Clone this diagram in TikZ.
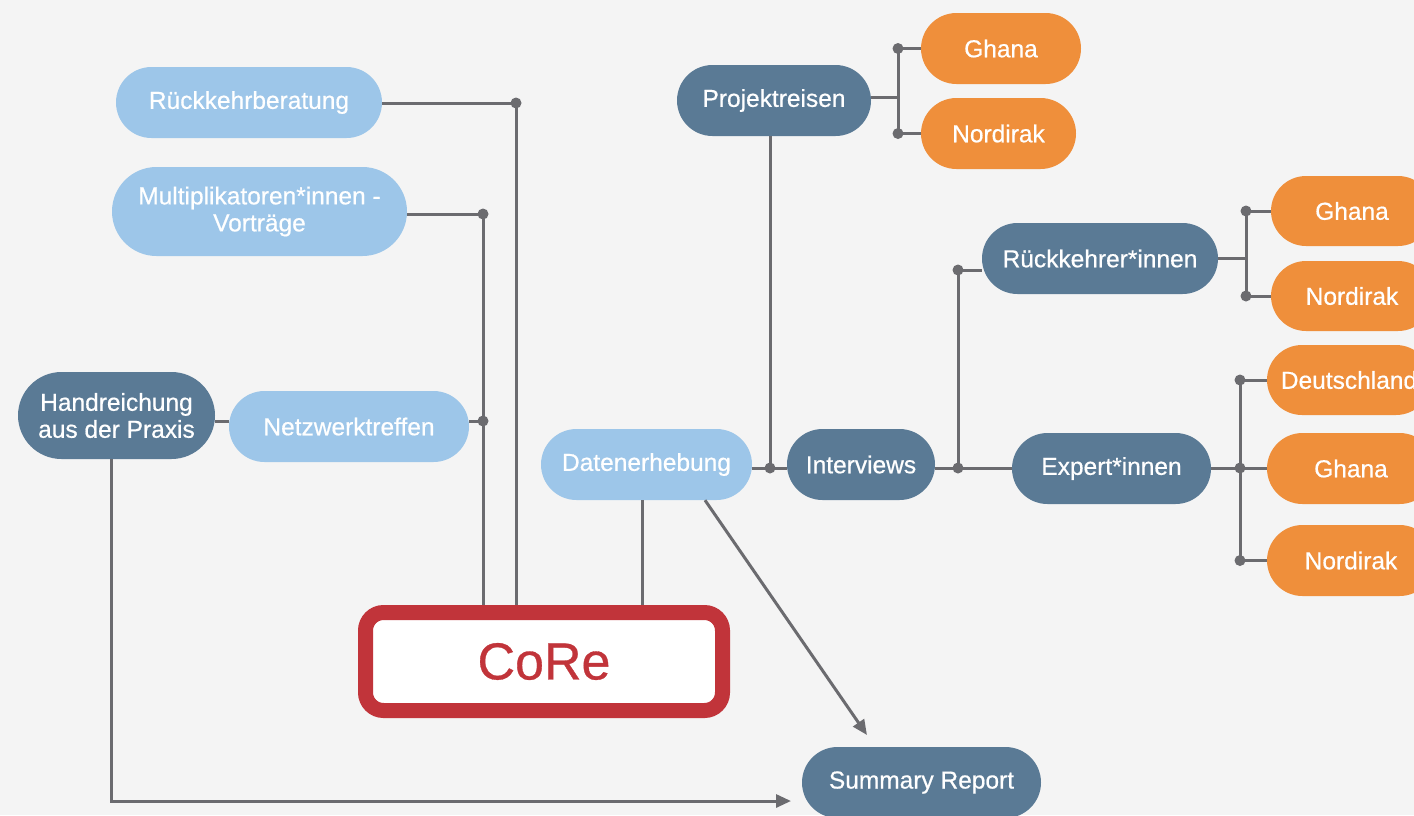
\documentclass[tikz,border=0pt]{standalone}
\usepackage{fontspec}
\setmainfont{Liberation Sans}[FakeBold=0.6]
\usetikzlibrary{shapes.misc,arrows.meta}
\definecolor{bgc}{HTML}{F4F4F4}
\definecolor{lightb}{HTML}{9DC6E9}
\definecolor{darkb}{HTML}{5A7A95}
\definecolor{orng}{HTML}{EF8F3B}
\definecolor{linec}{HTML}{6B6B6F}
\definecolor{corered}{HTML}{C1343A}
\begin{document}
\begin{tikzpicture}[x=1pt,y=-1pt,
  pill/.style={rounded rectangle, inner sep=0pt, text=white, align=center,
    font=\fontsize{24.5}{27}\selectfont, minimum height=71pt},
  lb/.style={pill, fill=lightb},
  db/.style={pill, fill=darkb},
  ob/.style={pill, fill=orng},
  conn/.style={draw=linec, line width=3pt},
  arr/.style={conn, -{Triangle[length=15pt,width=13pt]}},
  dot/.style={circle, fill=linec, inner sep=0pt, minimum size=11pt}]
\clip (0,0) rectangle (1414,815);
\fill[bgc] (0,0) rectangle (1414,815);

% junction coordinates
\coordinate (jrb) at (516,103);
\coordinate (jmv) at (483,214);
\coordinate (jnt) at (483,421);
\coordinate (jde) at (770,468);
\coordinate (jpr) at (898,97);
\coordinate (jiv) at (958,468);
\coordinate (jrk) at (958,270);
\coordinate (jrr) at (1246,258);
\coordinate (jex) at (1240,468);
\coordinate (ae1) at (867,735);
\coordinate (ae2) at (791,801);

% CoRe box
\node[draw=corered, fill=white, line width=15pt, rounded corners=18pt,
  minimum width=357pt, minimum height=98pt, inner sep=0pt,
  text=corered, font=\fontsize{52}{60}\selectfont] (core) at (544,661.5) {CoRe};

% nodes
\node[lb, minimum width=266pt] (rb) at (249,102.5) {Rückkehrberatung};
\node[lb, minimum width=295pt, minimum height=89pt] (mv) at (259.5,211.5) {Multiplikatoren*innen -\\Vorträge};
\node[db, minimum width=197pt, minimum height=87pt] (hr) at (116.5,415.5) {Handreichung\\aus der Praxis};
\node[lb, minimum width=240pt] (nt) at (349,426.5) {Netzwerktreffen};
\node[lb, minimum width=211pt] (de) at (646.5,464.5) {Datenerhebung};
\node[db, minimum width=148pt] (iv) at (861,464.5) {Interviews};
\node[db, minimum width=194pt] (pr) at (774,100.5) {Projektreisen};
\node[ob, minimum width=160pt] (g1) at (1001,48.5) {Ghana};
\node[ob, minimum width=155pt] (n1) at (998.5,133.5) {Nordirak};
\node[db, minimum width=236pt] (rk) at (1100,258.5) {Rückkehrer*innen};
\node[ob, minimum width=162pt, minimum height=70pt] (g2) at (1352,211) {Ghana};
\node[ob, minimum width=162pt, minimum height=70pt] (n2) at (1352,296) {Nordirak};
\node[ob, minimum width=164pt, minimum height=70pt] (dl) at (1349,380) {Deutschland};
\node[db, minimum width=199pt] (ex) at (1111.5,468.5) {Expert*innen};
\node[ob, minimum width=168pt] (g3) at (1351,468.5) {Ghana};
\node[ob, minimum width=168pt] (n3) at (1351,560.5) {Nordirak};
\node[db, minimum width=239pt] (sr) at (921.5,782.5) {Summary Report};

% left connectors
\draw[conn] (rb.east |- jrb) -- (jrb) -- (jrb |- core.north);
\draw[conn] (mv.east |- jmv) -- (jmv) -- (jmv |- core.north);
\draw[conn] (nt.east |- jnt) -- (jnt);
\draw[conn] (hr.east |- jnt) -- (nt.west |- jnt);
\draw[conn] ([xshift=-4.5pt]de.south) -- ([xshift=-4.5pt]de.south |- core.north);
\draw[arr] ([xshift=58.5pt]de.south) -- (ae1);
\draw[arr] ([xshift=-5.5pt]hr.south) |- (ae2);

% Datenerhebung -> Interviews, Projektreisen
\draw[conn] (de.east |- jde) -- (iv.west |- jde);
\draw[conn] (pr.south -| jde) -- (jde);

% Projektreisen branch
\draw[conn] (pr.east |- jpr) -- (jpr);
\draw[conn] (jpr |- g1) -- (jpr |- n1);
\draw[conn] (jpr |- g1) -- (g1.west);
\draw[conn] (jpr |- n1) -- (n1.west);

% Interviews branch
\draw[conn] (iv.east |- jiv) -- (ex.west |- jiv);
\draw[conn] (jiv) -- (jrk) -- (rk.west |- jrk);

% Rueckkehrer branch
\draw[conn] (rk.east |- jrr) -- (jrr);
\draw[conn] (jrr |- g2) -- (jrr |- n2);
\draw[conn] (jrr |- g2) -- (g2.west);
\draw[conn] (jrr |- n2) -- (n2.west);

% Expert branch
\draw[conn] (ex.east |- jex) -- (g3.west |- jex);
\draw[conn] (jex |- dl) -- (jex |- n3);
\draw[conn] (jex |- dl) -- (dl.west);
\draw[conn] (jex |- n3) -- (n3.west);

% dots
\node[dot] at (jrb) {};
\node[dot] at (jmv) {};
\node[dot] at (jnt) {};
\node[dot] at (jde) {};
\node[dot] at (jpr |- g1) {};
\node[dot] at (jpr |- n1) {};
\node[dot] at (jiv) {};
\node[dot] at (jrk) {};
\node[dot] at (jrr |- g2) {};
\node[dot] at (jrr |- n2) {};
\node[dot] at (jex |- dl) {};
\node[dot] at (jex) {};
\node[dot] at (jex |- n3) {};
\end{tikzpicture}
\end{document}
